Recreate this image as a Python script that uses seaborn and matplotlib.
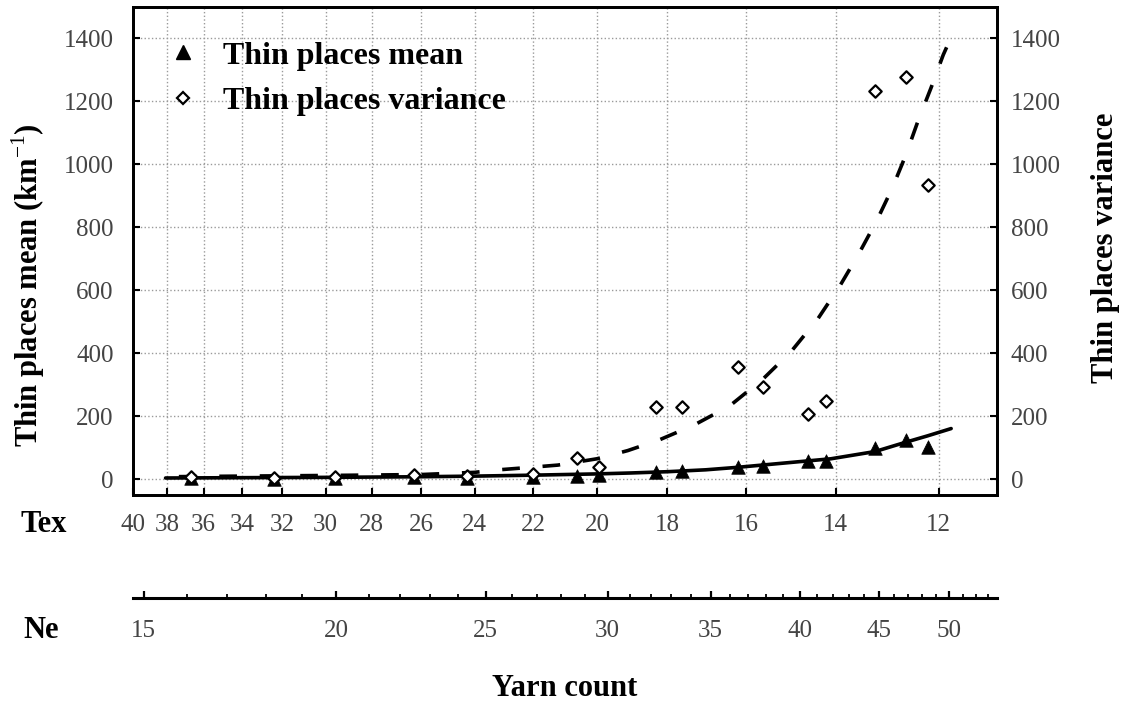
import matplotlib
matplotlib.use("Agg")
import matplotlib.pyplot as plt
import seaborn as sns
from matplotlib.lines import Line2D
from matplotlib.ticker import FixedLocator, NullLocator, NullFormatter

# measured points (Tex on x)
tex_pts = [36.7, 32.4, 29.6, 26.3, 24.3, 22.0, 20.6, 19.95, 18.3, 17.6, 16.2, 15.6, 14.6, 14.2, 13.2, 12.6, 12.2]
mean_pts = [3, 2, 4, 6, 4, 7, 11, 12, 22, 27, 38, 43, 57, 57, 100, 124, 104]
var_pts = [6, 4, 8, 12, 9, 18, 68, 40, 228, 228, 356, 294, 206, 250, 1234, 1278, 936]

# fitted curves
mean_fit_tex = [38.1, 34, 30, 26, 24, 22, 20, 19, 18, 17, 16.2, 15.0, 14.1, 13.2, 12.6, 12.2, 11.78]
mean_fit = [4, 5, 6, 8, 10, 13, 17, 20, 24, 30, 38, 53, 65, 88, 118, 138, 161]
var_fit_tex = [38.1, 34, 30, 26, 24, 23.3, 22.2, 21.2, 20.0, 19.1, 18.2, 17.3, 16.4, 15.6, 14.96,
               14.37, 13.9, 13.52, 13.16, 12.86, 12.6, 12.38, 12.14, 11.92, 11.86]
var_fit = [8, 10, 12, 15, 22, 29, 37, 45, 65, 91, 126, 172, 233, 319, 406,
           511, 617, 717, 823, 926, 1032, 1137, 1243, 1348, 1372]

tex_ticks = [40, 38, 36, 34, 32, 30, 28, 26, 24, 22, 20, 18, 16, 14, 12]
ne_major = [15, 20, 25, 30, 35, 40, 45, 50]
ne_minor = [n for n in range(16, 54) if n % 5 != 0]
y_ticks = [0, 200, 400, 600, 800, 1000, 1200, 1400]

sns.set_theme(style="white")
plt.rcParams["font.family"] = ["Liberation Serif", "DejaVu Serif"]
plt.rcParams["mathtext.fontset"] = "custom"
plt.rcParams["mathtext.rm"] = "Liberation Serif"
plt.rcParams["mathtext.bf"] = "Liberation Serif:bold"
plt.rcParams["text.color"] = "black"

W, H = 1124, 703
fig = plt.figure(figsize=(W / 100, H / 100), dpi=100)
ax = fig.add_axes([133 / W, 1 - 495 / H, 864 / W, 488 / H])
ax.set_xscale("log")
ax.set_xlim(40, 11)
ax.set_ylim(-50, 1500)

tick_col = "#444444"
lab_font = dict(fontsize=22, fontweight="bold", color="black")

sns.lineplot(x=mean_fit_tex, y=mean_fit, ax=ax, color="black", lw=2.6, estimator=None, zorder=3)
sns.lineplot(x=var_fit_tex, y=var_fit, ax=ax, color="black", lw=2.6, estimator=None, zorder=3)
ax.lines[-1].set_dashes((4.9, 6.3))

sns.scatterplot(x=tex_pts, y=mean_pts, ax=ax, marker="^", s=95, color="black",
                edgecolor="black", linewidth=0.5, zorder=4)
sns.scatterplot(x=tex_pts, y=var_pts, ax=ax, marker="D", s=40, color="white",
                edgecolor="black", linewidth=1.6, zorder=5)

ax.set_xticks(tex_ticks)
ax.set_xticklabels([str(t) for t in tex_ticks])
ax.xaxis.set_minor_locator(NullLocator())
ax.xaxis.set_minor_formatter(NullFormatter())
ax.set_yticks(y_ticks)
ax.set_axisbelow(True)
ax.grid(True, ls=":", color="#9a9a9a", lw=1)
ax.tick_params(axis="x", bottom=True, direction="in", length=5, width=1.5, color="black",
               labelsize=18, labelcolor=tick_col, pad=14)
ax.tick_params(axis="y", left=True, direction="in", length=5, width=1.5, color="black",
               labelsize=18, labelcolor=tick_col, pad=14)
ax.set_xlabel("")
ax.set_ylabel("Thin places mean (km$^{-1}$)", **lab_font)
ax.yaxis.set_label_coords(-0.1, 0.43)

ax2 = ax.twinx()
ax2.set_ylim(-50, 1500)
ax2.set_yticks(y_ticks)
ax2.grid(False)
ax2.tick_params(axis="y", right=True, direction="in", length=5, width=1.5, color="black",
                labelsize=18, labelcolor=tick_col, pad=10)
ax2.set_ylabel("Thin places variance", **lab_font)
ax2.yaxis.set_label_coords(1.109, 0.506)

for a in (ax, ax2):
    for sp in a.spines.values():
        sp.set_color("black")
        sp.set_linewidth(2)

handles = [Line2D([], [], marker="^", ls="none", color="black", ms=9.5),
           Line2D([], [], marker="D", ls="none", mfc="white", mec="black", mew=1.6, ms=6.3)]
leg = ax.legend(handles, ["Thin places mean", "Thin places variance"], loc="upper left",
                bbox_to_anchor=(0.039, 0.93), borderaxespad=0, borderpad=0, frameon=False,
                handlelength=1.0, handletextpad=0.75, labelspacing=0.5,
                prop={"weight": "bold", "size": 23})
for t in leg.get_texts():
    t.set_color("black")

# Ne scale underneath
ax_ne = fig.add_axes([133 / W, 1 - 598 / H, 864 / W, 0.001])
ax_ne.patch.set_visible(False)
ax_ne.set_xscale("log")
ax_ne.set_xlim(590.5 / 40, 590.5 / 11)
for k in ("left", "right", "top"):
    ax_ne.spines[k].set_visible(False)
ax_ne.spines["bottom"].set_color("black")
ax_ne.spines["bottom"].set_linewidth(2.2)
ax_ne.set_yticks([])
ax_ne.xaxis.set_major_locator(FixedLocator(ne_major))
ax_ne.set_xticklabels([str(n) for n in ne_major])
ax_ne.xaxis.set_minor_locator(FixedLocator(ne_minor))
ax_ne.xaxis.set_minor_formatter(NullFormatter())
ax_ne.tick_params(axis="x", which="major", bottom=True, direction="in", length=5, width=1.6,
                  color="black", labelsize=18, labelcolor=tick_col, pad=16)
ax_ne.tick_params(axis="x", which="minor", bottom=True, direction="in", length=3, width=1.3,
                  color="black")

fig.text(20 / W, 1 - 525 / H, "Tex", ha="left", va="center", **lab_font)
fig.text(23 / W, 1 - 630 / H, "Ne", ha="left", va="center", **lab_font)
fig.text(565 / W, 1 - 688 / H, "Yarn count", ha="center", va="center", **lab_font)

fig.savefig("out.png", dpi=100)
